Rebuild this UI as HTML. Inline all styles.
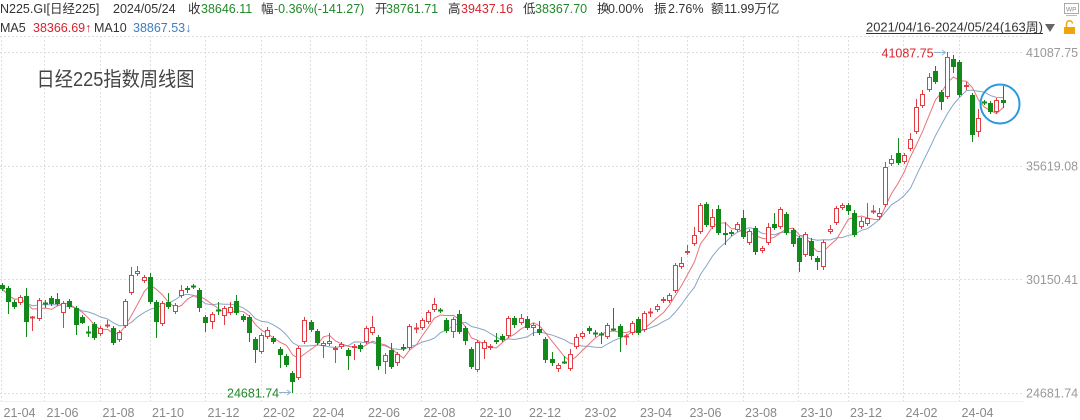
<!DOCTYPE html>
<html><head><meta charset="utf-8"><style>
html,body{margin:0;padding:0;background:#fff;width:1080px;height:420px;overflow:hidden}
svg{display:block}
text{font-family:"Liberation Sans","Noto Sans CJK SC",sans-serif}
</style></head><body>
<svg id="s" width="1080" height="420" viewBox="0 0 1080 420" xmlns="http://www.w3.org/2000/svg">
<rect width="1080" height="420" fill="#fff"/>
<!-- grid -->
<g stroke="#dedede" stroke-width="1" stroke-dasharray="2,2" fill="none">
<line x1="0" x2="1024" y1="36.5" y2="36.5"/>
<line x1="0" x2="1024" y1="52.5" y2="52.5"/>
<line x1="0" x2="1024" y1="166.5" y2="166.5"/>
<line x1="0" x2="1024" y1="279.5" y2="279.5"/>
<line x1="0" x2="1024" y1="393.5" y2="393.5"/>
<line x1="1.5" x2="1.5" y1="36" y2="401"/>
<line x1="44.5" x2="44.5" y1="36" y2="401"/>
<line x1="100.5" x2="100.5" y1="36" y2="401"/>
<line x1="150.5" x2="150.5" y1="36" y2="401"/>
<line x1="205.5" x2="205.5" y1="36" y2="401"/>
<line x1="261.5" x2="261.5" y1="36" y2="401"/>
<line x1="310.5" x2="310.5" y1="36" y2="401"/>
<line x1="366.5" x2="366.5" y1="36" y2="401"/>
<line x1="421.5" x2="421.5" y1="36" y2="401"/>
<line x1="477.5" x2="477.5" y1="36" y2="401"/>
<line x1="527.5" x2="527.5" y1="36" y2="401"/>
<line x1="582.5" x2="582.5" y1="36" y2="401"/>
<line x1="638.5" x2="638.5" y1="36" y2="401"/>
<line x1="687.5" x2="687.5" y1="36" y2="401"/>
<line x1="743.5" x2="743.5" y1="36" y2="401"/>
<line x1="798.5" x2="798.5" y1="36" y2="401"/>
<line x1="848.5" x2="848.5" y1="36" y2="401"/>
<line x1="903.5" x2="903.5" y1="36" y2="401"/>
<line x1="959.5" x2="959.5" y1="36" y2="401"/>
</g>
<line x1="0" x2="1024" y1="401.5" y2="401.5" stroke="#f0f0f0" stroke-width="1"/>

<!-- header line 1 -->
<g font-size="12.5" fill="#333">
<text x="0" y="13">N225.GI[日经225]</text>
<text x="113" y="13">2024/05/24</text>
<text x="188" y="13">收</text><text x="201" y="13" fill="#23872b">38646.11</text>
<text x="261" y="13">幅</text><text x="274" y="13" fill="#23872b">-0.36%(-141.27)</text>
<text x="375" y="13">开</text><text x="386" y="13" fill="#23872b">38761.71</text>
<text x="448" y="13">高</text><text x="461" y="13" fill="#d9232e">39437.16</text>
<text x="523" y="13">低</text><text x="535" y="13" fill="#23872b">38367.70</text>
<text x="597" y="13">换</text><text x="608" y="13">0.00%</text>
<text x="654" y="13">振</text><text x="668" y="13">2.76%</text>
<text x="711" y="13">额</text><text x="724" y="13">11.99万亿</text>
<!-- line 2 -->
<text x="0" y="32">MA5</text><text x="33" y="32" fill="#d9232e">38366.69↑</text>
<text x="94" y="32">MA10</text><text x="133" y="32" fill="#3d7ec0">38867.53↓</text>
<text x="866" y="31.7" textLength="177" lengthAdjust="spacingAndGlyphs">2021/04/16-2024/05/24(163周)</text>
</g>
<line x1="866" x2="1043" y1="33.5" y2="33.5" stroke="#333" stroke-width="1"/>
<path d="M1045 24 L1055 24 L1050 32 Z" fill="#666"/>
<!-- lock -->
<rect x="1064" y="27" width="11" height="7" fill="#f0a30a"/>
<path d="M1066.5 27 v-3 a3 3 0 0 1 6 -0.5" stroke="#f0a30a" stroke-width="1.5" fill="none"/>
<!-- WP icon -->
<rect x="1064.5" y="3.5" width="14" height="10" fill="none" stroke="#aaa" stroke-width="1"/>
<text x="1066" y="11.5" font-size="6.5" fill="#888">WP</text>
<line x1="1066" x2="1077" y1="15.5" y2="15.5" stroke="#bbb"/>

<!-- title -->
<text x="36.5" y="86" font-size="20" fill="#444" textLength="158" lengthAdjust="spacingAndGlyphs">日经225指数周线图</text>

<!-- right axis -->
<g font-size="12.5" fill="#999">
<text x="1026" y="57">41087.75</text>
<text x="1026" y="170.5">35619.08</text>
<text x="1026" y="284">30150.41</text>
<text x="1026" y="397.5">24681.74</text>
</g>
<!-- x axis -->
<g font-size="12.5" fill="#888">
<text x="3.5" y="417">21-04</text>
<text x="46.5" y="417">21-06</text>
<text x="102.5" y="417">21-08</text>
<text x="152" y="417">21-10</text>
<text x="207.5" y="417">21-12</text>
<text x="263" y="417">22-02</text>
<text x="312.5" y="417">22-04</text>
<text x="368" y="417">22-06</text>
<text x="423.5" y="417">22-08</text>
<text x="479.5" y="417">22-10</text>
<text x="529" y="417">22-12</text>
<text x="584.5" y="417">23-02</text>
<text x="640" y="417">23-04</text>
<text x="689.5" y="417">23-06</text>
<text x="745" y="417">23-08</text>
<text x="800.5" y="417">23-10</text>
<text x="850" y="417">23-12</text>
<text x="905.5" y="417">24-02</text>
<text x="961.5" y="417">24-04</text>
</g>

<g id="ma"></g>
<g id="cd"></g>

<!-- annotations -->
<text x="881.5" y="57.5" font-size="12.5" fill="#d9232e">41087.75</text>
<line x1="934" x2="945" y1="52.5" y2="52.5" stroke="#8fb3cf" stroke-width="1"/>
<path d="M942 50 L945.5 52.5 L942 55" stroke="#8fb3cf" fill="none" stroke-width="1"/>
<text x="227" y="397.5" font-size="12.5" fill="#23872b">24681.74</text>
<line x1="279" x2="290" y1="392.5" y2="392.5" stroke="#8fb3cf" stroke-width="1"/>
<path d="M287 390 L290.5 392.5 L287 395" stroke="#8fb3cf" fill="none" stroke-width="1"/>

<circle cx="1000" cy="104" r="19.5" fill="none" stroke="#2b9be0" stroke-width="2"/>
</svg>
<script>
(function(){
var raw="g 285 289 283 291|g 288 302 286 314|g 302 307 300 309|r 297 303 295 305|g 296 322 288 337|r 317 318 316 331|r 300 319 298 321|g 303 304 300 308|g 298 304 296 306|g 299 304 293 306|"+
"r 303 313 301 328|g 301 307 299 309|g 308 325 306 335|g 317 323 315 324|g 332 333 326 337|g 324 338 322 340|r 328 334 326 336|r 325 326 320 328|g 328 343 326 345|r 332 340 330 342|"+
"r 301 326 299 328|r 275 293 267 295|r 271 274 266 276|r 277 281 275 283|g 277 302 273 304|g 302 322 300 338|r 303 324 301 326|g 302 307 293 309|r 305 312 303 314|r 290 296 285 298|"+
"g 288 290 286 293|g 286 287 284 289|g 290 308 288 312|g 317 323 315 332|r 314 322 312 329|g 310 311 302 315|r 308 316 306 325|r 307 313 302 315|g 301 313 295 315|g 316 320 314 322|"+
"g 317 333 315 342|g 339 350 337 363|r 335 352 333 354|r 330 337 327 339|g 338 342 336 344|g 349 355 347 368|g 356 365 354 367|g 373 382 371 393|r 348 378 346 380|r 320 342 317 344|"+
"g 322 330 320 332|g 331 343 329 345|r 343 346 341 358|r 341 344 333 346|r 348 350 346 363|r 344 347 342 349|g 350 356 348 370|r 346 348 344 360|g 345 349 343 352|r 328 342 326 344|"+
"r 327 333 316 335|g 337 366 335 370|r 355 362 353 374|g 350 367 343 369|r 354 363 352 366|g 347 349 344 351|r 326 348 324 350|r 328 329 323 333|r 320 328 318 330|r 312 322 310 324|"+
"r 304 310 298 312|g 310 311 308 313|g 320 331 318 333|r 319 332 317 338|g 314 332 310 334|g 328 341 326 345|g 349 367 347 369|r 342 370 340 372|r 342 349 340 359|r 346 348 344 350|"+
"g 340 342 333 344|g 336 340 334 342|r 318 336 316 338|g 318 325 316 328|r 318 323 314 325|g 319 328 316 330|r 325 328 323 336|g 329 333 321 335|g 339 360 337 363|g 359 363 352 366|"+
"r 365 369 363 372|g 362 363 356 364|r 354 369 349 371|r 337 347 334 349|r 333 337 331 339|g 328 331 326 334|g 333 334 330 337|g 334 335 332 344|r 325 337 323 339|g 329 330 308 331|"+
"g 326 337 324 352|r 336 337 334 345|r 323 333 321 335|g 319 333 317 335|r 313 330 311 332|r 312 313 308 317|r 306 310 304 312|r 299 301 297 303|r 295 301 293 303|r 265 291 263 293|"+
"r 263 267 257 269|r 251 253 245 255|r 235 244 227 246|r 205 232 203 234|g 204 225 202 227|r 217 227 209 229|g 209 233 205 235|g 233 235 222 245|g 232 234 230 236|r 224 230 222 232|"+
"g 218 237 210 239|r 231 243 229 245|g 228 252 226 255|r 248 251 246 253|r 227 243 223 245|g 224 228 213 230|r 209 227 207 229|g 214 233 212 235|g 230 244 228 247|g 238 262 236 272|"+
"r 234 255 232 257|g 241 256 238 260|g 258 262 256 270|r 242 267 240 270|r 229 232 225 234|r 208 223 206 225|r 205 208 203 210|g 205 211 203 215|g 213 235 210 237|r 221 227 217 229|"+
"r 218 224 203 226|r 211 212 205 214|r 213 217 208 220|r 167 205 162 207|r 159 164 155 166|g 153 163 138 165|r 155 162 153 164|r 139 149 133 151|r 107 132 99 134|r 94 106 90 108|"+
"r 77 90 73 92|g 71 82 66 84|g 92 102 90 110|r 57 97 52 99|g 59 67 55 73|g 62 95 60 97|r 85 87 82 90|g 95 135 93 142|r 118 132 109 137|g 102 103 100 105|"+
"g 103 112 101 114|r 100 112 98 114|g 100 103 86 108";
var rows=raw.split('|').map(function(s){var p=s.trim().split(/\s+/);return [p[0],+p[1],+p[2],+p[3],+p[4]];});
var out='',closes=[],xs=[];
rows.forEach(function(r,i){
  var cx=Math.round(1.5+6.18*i)+0.5;xs.push(cx);
  var t=r[0],top=r[1],bot=r[2],h=r[3],l=r[4];
  closes.push(t==='r'?top:bot);
  var col=t==='r'?'#e23d43':'#12891b';
  out+='<line x1="'+cx+'" x2="'+cx+'" y1="'+h+'" y2="'+l+'" stroke="'+col+'" stroke-width="1"/>';
  var bh=bot-top;
  if(bh<2){
    out+='<line x1="'+(cx-2.5)+'" x2="'+(cx+2.5)+'" y1="'+(top+0.5)+'" y2="'+(top+0.5)+'" stroke="'+col+'" stroke-width="'+(bh<1?1:2)+'"/>';
  }else if(t==='r'){
    out+='<rect x="'+(cx-2)+'" y="'+(top+0.5)+'" width="4" height="'+(bh-1)+'" fill="#fff" stroke="'+col+'" stroke-width="1"/>';
  }else{
    out+='<rect x="'+(cx-2.5)+'" y="'+top+'" width="5" height="'+bh+'" fill="'+col+'"/>';
  }
});
function ma(n){var pts=[];for(var i=0;i<closes.length;i++){var s=0,c=0;for(var j=Math.max(0,i-n+1);j<=i;j++){s+=closes[j];c++;}pts.push(xs[i]+','+(s/c).toFixed(1));}return pts.join(' ');}
document.getElementById('ma').innerHTML='<polyline points="'+ma(10)+'" fill="none" stroke="#87a5c7" stroke-width="1"/><polyline points="'+ma(5)+'" fill="none" stroke="#e8747a" stroke-width="1"/>';
document.getElementById('cd').innerHTML=out;
})();
</script>
</body></html>
